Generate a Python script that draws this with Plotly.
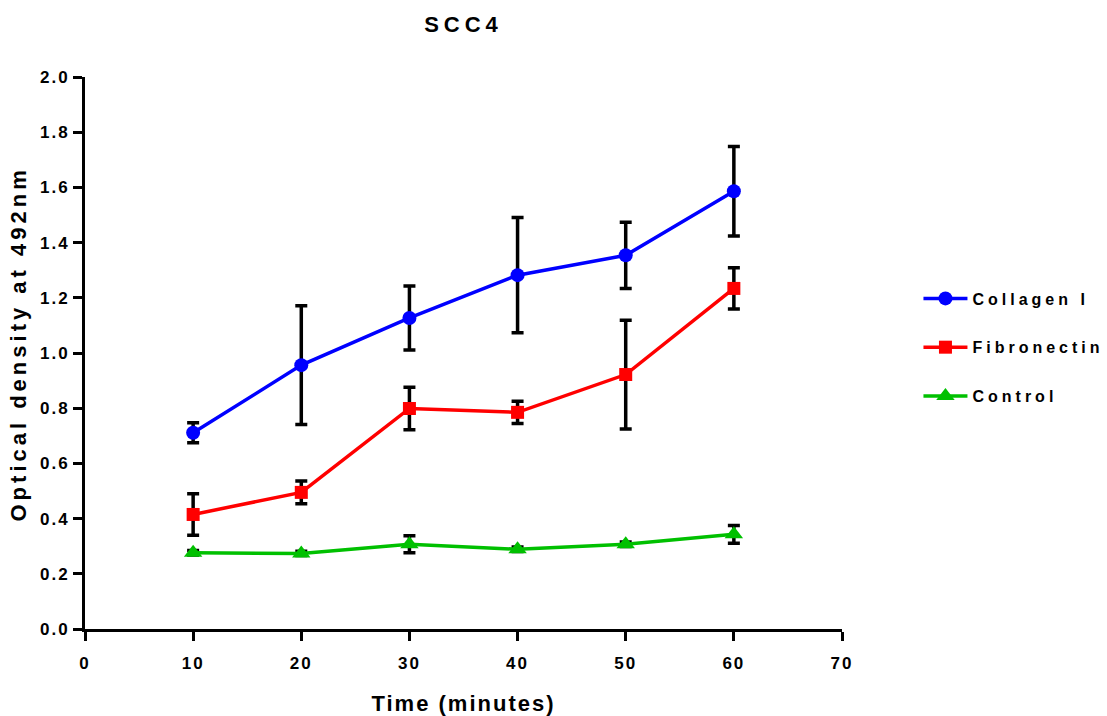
import plotly.graph_objects as go

time_min = [10, 20, 30, 40, 50, 60]

collagen = [0.711, 0.956, 1.127, 1.282, 1.354, 1.586]
collagen_err = [0.036, 0.215, 0.116, 0.209, 0.120, 0.162]

fibronectin = [0.415, 0.495, 0.799, 0.785, 0.922, 1.234]
fibronectin_err = [0.075, 0.041, 0.077, 0.040, 0.197, 0.075]

control = [0.276, 0.274, 0.307, 0.289, 0.307, 0.343]
control_err = [0.008, 0.008, 0.031, 0.008, 0.008, 0.032]

FONT = "Liberation Sans, Arial, sans-serif"

series = [
    ("Collagen I", collagen, collagen_err, "#0000FF", "circle", 14),
    ("Fibronectin", fibronectin, fibronectin_err, "#FF0000", "square", 13),
    ("Control", control, control_err, "#00C000", "triangle-up", 16),
]

fig = go.Figure()
for i, (name, vals, err, col, sym, sz) in enumerate(series):
    fig.add_trace(go.Scatter(
        x=time_min, y=vals, name=name, mode="lines+markers",
        legendgroup=f"g{i}",
        line=dict(color=col, width=3.5),
        marker=dict(symbol=sym, size=sz, color=col, line=dict(width=0)),
        error_y=dict(type="data", array=err, visible=True, color="black",
                     thickness=3.5, width=6),
    ))

fig.update_layout(
    width=1107, height=716,
    paper_bgcolor="white", plot_bgcolor="white",
    margin=dict(l=85, r=265, t=77, b=87, autoexpand=False),
    font=dict(family=FONT, color="black"),
    title=dict(text="<b>SCC4</b>", x=0.5, xref="paper", xanchor="center",
               y=1 - 24 / 716, yref="container", yanchor="middle",
               font=dict(size=22, family=FONT, color="black")),
    showlegend=True,
    legend=dict(x=1.101, xanchor="left", y=0.51, yanchor="middle",
                font=dict(size=16, family=FONT, color="black", weight="bold"),
                tracegroupgap=25, itemwidth=44, bgcolor="rgba(0,0,0,0)"),
    annotations=[dict(
        text="<b>Optical density at 492nm</b>", textangle=-90,
        xref="paper", yref="paper", x=(18 - 85) / 757, y=(629 - 344.5) / 552,
        xanchor="center", yanchor="middle", showarrow=False,
        font=dict(size=22, family=FONT, color="black"),
    )],
)

fig.update_xaxes(
    range=[0, 70], tick0=0, dtick=10, showgrid=False, zeroline=False,
    showline=True, linecolor="black", linewidth=3,
    ticks="outside", ticklen=9, tickwidth=3, tickcolor="black",
    ticklabelstandoff=8,
    tickfont=dict(size=17, family=FONT, weight="bold"),
    title=dict(text="<b>Time (minutes)</b>", font=dict(size=22, family=FONT), standoff=24),
)
fig.update_yaxes(
    range=[0, 2.0], tick0=0, dtick=0.2, tickformat=".1f", showgrid=False, zeroline=False,
    showline=True, linecolor="black", linewidth=3,
    ticks="outside", ticklen=9, tickwidth=3, tickcolor="black",
    tickfont=dict(size=17, family=FONT, weight="bold"),
)

post = """
var s = document.createElement('style');
s.textContent = 'html,body{margin:0;padding:0;overflow:hidden} ' +
  '.gtitle{letter-spacing:5px} .xtitle{letter-spacing:2px} .annotation-text{letter-spacing:4px} ' +
  '.xtick text, .ytick text{letter-spacing:2px} .legendtext{letter-spacing:4px}';
document.head.appendChild(s);
var gd = document.getElementById('{plot_id}');
function unclip() {
  gd.querySelectorAll('.legend, .legend *').forEach(function (e) {
    if (e.hasAttribute('clip-path')) e.removeAttribute('clip-path');
  });
}
Plotly.newPlot(gd, gd.data, gd.layout, {displayModeBar: false}).then(unclip);
unclip();
"""

fig.write_html("out.html", post_script=post, config={"displayModeBar": False})
